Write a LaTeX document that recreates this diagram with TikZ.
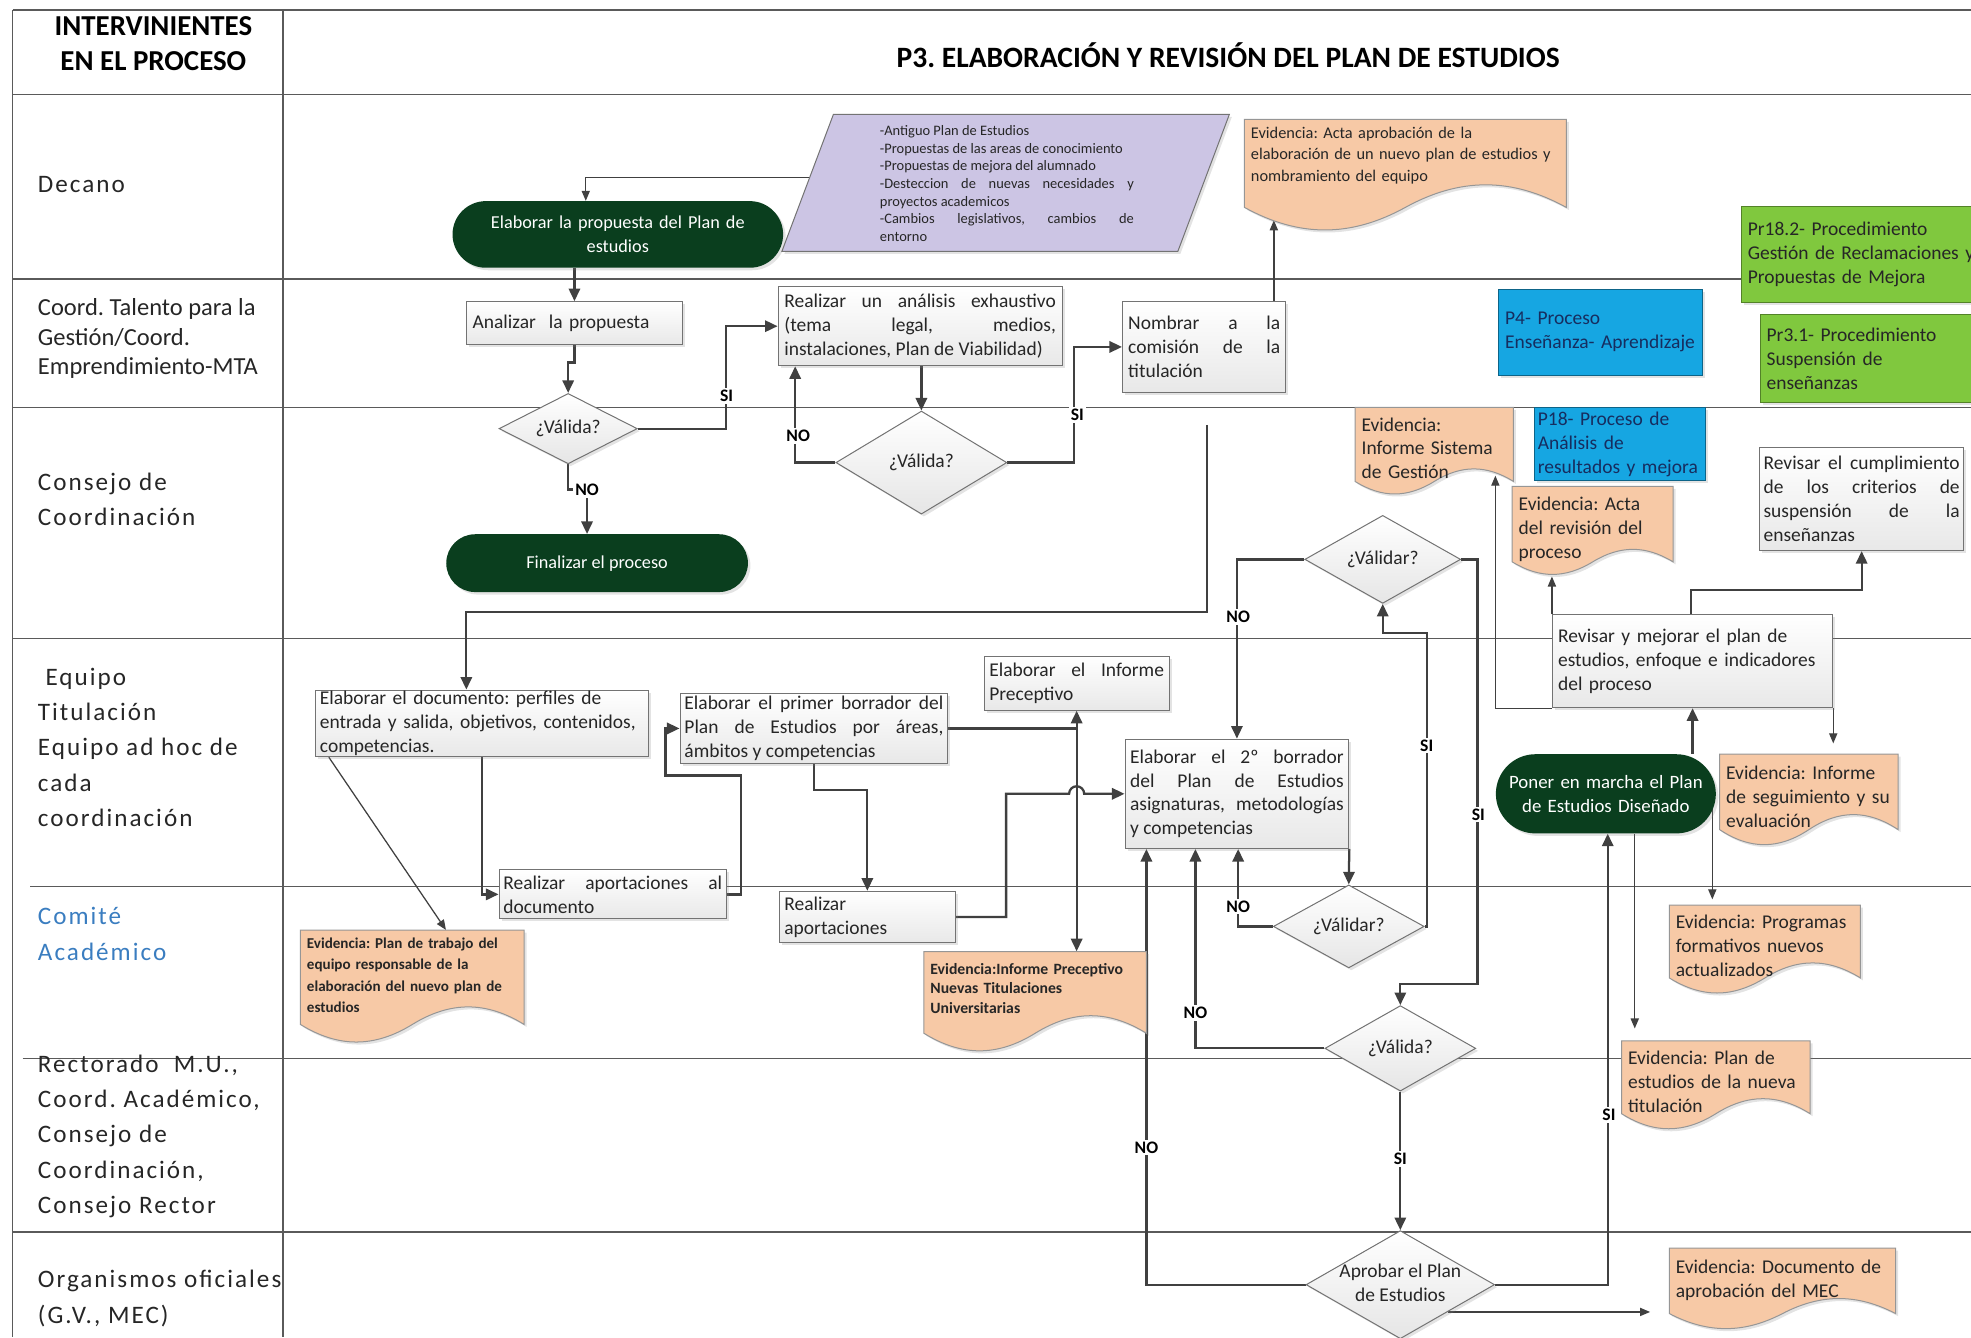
\documentclass[tikz,border=0pt]{standalone}
\usepackage{fontspec}
\setmainfont{Carlito}
\newfontfamily\lanefamily{Carlito}[LetterSpace=8]
\usetikzlibrary{shapes.geometric,shadows,calc,fit,arrows.meta}

\definecolor{pillgreen}{RGB}{10,62,30}
\definecolor{lavender}{RGB}{204,197,228}
\definecolor{evfill}{RGB}{247,201,166}
\definecolor{evline}{RGB}{150,150,150}
\definecolor{boxline}{RGB}{115,115,115}
\definecolor{pblue}{RGB}{22,166,226}
\definecolor{pgreen}{RGB}{128,200,62}
\definecolor{navy}{RGB}{22,45,95}
\definecolor{comite}{RGB}{58,125,192}
\definecolor{edge}{RGB}{64,64,64}
\definecolor{lanecol}{RGB}{90,90,90}
\definecolor{textcol}{RGB}{38,38,38}

\hyphenpenalty=10000
\exhyphenpenalty=10000
\tolerance=10000
\hbadness=10000
\hfuzz=20pt
\frenchspacing

\newcommand\boxfnt{\fontsize{15.5}{19}\selectfont}
\newcommand\smallfnt{\fontsize{13}{17}\selectfont}
\newcommand\evbfnt{\bfseries\fontsize{12}{17}\selectfont}
\newcommand\evcfnt{\bfseries\fontsize{12.5}{15.5}\selectfont}
\newcommand\listfnt{\fontsize{11.5}{14}\selectfont}
\newcommand\pillfnt{\fontsize{14.5}{19}\selectfont}
\newcommand\lblfnt{\bfseries\fontsize{14}{14}\selectfont}
\newcommand\lanefnt{\lanefamily\fontsize{20}{28}\selectfont}
\newcommand\coordfnt{\fontsize{19.5}{23.5}\selectfont}
\newcommand\headfnt{\bfseries\fontsize{23}{28}\selectfont}
\newcommand\titlefnt{\bfseries\fontsize{23.5}{28}\selectfont}

% centred text of a decision that does not enlarge the diamond
\newcommand\dtext[1]{\smash{\makebox[0pt]{\raisebox{-0.25em}{\begin{tabular}{@{}c@{}}#1\end{tabular}}}}}

\pgfdeclarelayer{lanes}
\pgfdeclarelayer{edges}
\pgfsetlayers{lanes,edges,main}

\tikzset{
  softshadow/.style={drop shadow={opacity=0.22, shadow xshift=2pt, shadow yshift=-2pt}},
  laneline/.style={draw=lanecol, line width=1.1pt},
  lanelabel/.style={anchor=west, align=left, inner sep=0pt, font=\lanefnt, text=textcol},
  headtxt/.style={font=\headfnt, text=black, inner sep=0pt, align=center},
  proc/.style={rectangle, draw=boxline, line width=0.8pt, top color=white, bottom color=black!9, inner sep=0pt, text=textcol, font=\boxfnt, softshadow},
  pill/.style={rectangle, fill=pillgreen, text=white, inner sep=0pt, align=center, font=\pillfnt, softshadow},
  decision/.style={diamond, draw=boxline, line width=0.8pt, top color=white, bottom color=black!10, inner sep=0pt, aspect=2, font=\boxfnt, text=textcol, softshadow},
  evshape/.style={fill=evfill, draw=evline, line width=0.8pt, softshadow},
  evtext/.style={anchor=north west, inner sep=0pt, align=left, text=textcol, font=\boxfnt},
  listshape/.style={fill=lavender, draw=boxline, line width=0.8pt, softshadow},
  listtext/.style={text width=202pt, align=justify, font=\listfnt, inner sep=0pt, text=textcol},
  refbox/.style={rectangle, anchor=north west, inner xsep=5pt, inner ysep=0pt, align=left, font=\boxfnt, softshadow},
  greenbox/.style={refbox, fill=pgreen, draw=pgreen!65!black, line width=0.8pt, text=textcol},
  bluebox/.style={refbox, fill=pblue, draw=pblue!60!black, line width=0.8pt, text=navy},
  arr/.style={draw=edge, line width=1.8pt, -{Triangle[length=10pt,width=9pt]}},
  tarr/.style={draw=edge, line width=1pt, -{Triangle[length=8pt,width=6.5pt]}},
  lbl/.style={font=\lblfnt, fill=white, inner sep=1.5pt, text=black},
}

% evidence document: name, x1, y1, x2, bottom, wave depth, text options, text
\newcommand\evdoc[8]{%
  \pgfmathsetmacro\evw{#4-#2}%
  \pgfmathsetlengthmacro\evtw{#4-#2-10}%
  \path[evshape] (#2,#3) -- (#4,#3) -- (#4,#5)
    .. controls ({#4-0.17*\evw},{#5-1.33*#6}) and ({#2+0.67*\evw},{#5-1.33*#6}) .. ({#2+0.5*\evw},#5)
    .. controls ({#2+0.33*\evw},{#5+1.33*#6}) and ({#2+0.17*\evw},{#5+1.33*#6}) .. (#2,#5) -- cycle;
  \node[fit={(#2,#3) (#4,#5)}, inner sep=0pt] (#1) {};
  \node[evtext, text width=\evtw, #7] (#1t) at ({#2+5},#3) {#8};%
}

\begin{document}
\begin{tikzpicture}[x=1pt,y=-1pt]
\useasboundingbox (0,0) rectangle (1568,1064);

% ---------- swimlane grid ----------
\begin{pgfonlayer}{lanes}
\path[laneline] (10,8) -- (1568,8);
\path[laneline] (10,8) -- (10,1064);
\path[laneline] (225,8) -- (225,1064);
\path[laneline] (10,75) -- (1568,75);
\path[laneline] (10,222) -- (1568,222);
\path[laneline] (10,324) -- (1568,324);
\path[laneline] (10,508) -- (1568,508);
\path[laneline] (24,705) -- (1568,705);
\path[laneline] (18,842) -- (1568,842);
\path[laneline] (10,980) -- (1568,980);
\end{pgfonlayer}

% ---------- headings and lane names ----------
\node[headtxt] (hInt) at (122,35) {INTERVINIENTES\\EN EL PROCESO};
\node[headtxt, font=\titlefnt] (hTit) at (977,44) {P3. ELABORACIÓN Y REVISIÓN DEL PLAN DE ESTUDIOS};

\node[lanelabel] (lDec) at (30,147) {Decano};
\node[lanelabel, font=\coordfnt] (lCoord) at (30,269.5) {Coord. Talento para la\\Gestión/Coord.\\Emprendimiento-MTA};
\node[lanelabel] (lCons) at (30,397) {Consejo de\\Coordinación};
\node[lanelabel] (lEq) at (30,594.5) {\hspace{6pt}Equipo\\Titulación\\Equipo ad hoc de\\cada\\coordinación};
\node[lanelabel, text=comite] (lCom) at (30,743) {Comité\\Académico};
\node[lanelabel] (lRect) at (30,904) {Rectorado\ \ M.U.,\\Coord. Académico,\\Consejo de\\Coordinación,\\Consejo Rector};
\node[lanelabel] (lOrg) at (30,1033) {Organismos oficiales\\(G.V., MEC)};

% ---------- Decano ----------
\path[listshape] (663,91) -- (978,91) -- (937,200) -- (622,200) -- cycle;
\node[listtext] (inputs) at (801,146) {-Antiguo Plan de Estudios\\
-Propuestas de las areas de conocimiento\\
-Propuestas de mejora del alumnado\\
-Desteccion de nuevas necesidades y\linebreak proyectos academicos\\
-Cambios legislativos, cambios de\linebreak entorno};
\coordinate (inL) at (644,141);

\node[pill, minimum width=263, minimum height=53, rounded corners=26.5pt, text width=250] (Eprop) at (491.5,186.5) {Elaborar la propuesta del Plan de\\estudios};

\evdoc{ev1}{990}{95}{1246}{165}{18}{font=\smallfnt, yshift=-6pt}{Evidencia: Acta aprobación de la\\elaboración de un nuevo plan de estudios y\\nombramiento del equipo}

\node[greenbox, minimum width=205, minimum height=76, text width=195] (pr182) at (1385,164) {Pr18.2- Procedimiento\\Gestión de Reclamaciones y\\Propuestas de Mejora};

% ---------- Coord. Talento ----------
\node[proc, minimum width=172, minimum height=34, text width=162, align=left] (analizar) at (457,257) {Analizar\ \ la propuesta};
\node[proc, minimum width=226, minimum height=63, text width=216, align=justify] (analisis) at (732,259.5) {Realizar un análisis exhaustivo\linebreak (tema legal, medios,\linebreak instalaciones, Plan de Viabilidad)};
\node[proc, minimum width=130, minimum height=72, text width=121, align=justify] (nombrar) at (958,276) {Nombrar a la\linebreak comisión de la\linebreak titulación};
\node[bluebox, minimum width=162, minimum height=68, text width=152] (p4) at (1192,230) {P4- Proceso\\Enseñanza- Aprendizaje};
\node[greenbox, minimum width=190, minimum height=70, text width=180] (pr31) at (1400,250) {Pr3.1- Procedimiento\\Suspensión de\\enseñanzas};

% ---------- Consejo de Coordinación ----------
\node[decision, minimum width=110, minimum height=56] (D1) at (452,341) {\dtext{¿Válida?}};
\node[decision, minimum width=136, minimum height=82] (D2) at (733,368) {\dtext{¿Válida?}};
\node[pill, minimum width=240, minimum height=46, rounded corners=23pt] (fin) at (475,448) {Finalizar el proceso};
\node[bluebox, minimum width=136, minimum height=58, inner xsep=3pt, text width=130] (p18) at (1220,324) {P18- Proceso de\\Análisis de\\resultados y mejora};
\evdoc{ev2}{1078}{324}{1204}{383}{10}{yshift=-8pt}{Evidencia:\\Informe Sistema\\de Gestión}
\evdoc{ev3}{1203}{387}{1331}{447}{10}{yshift=-8pt}{Evidencia: Acta\\del revisión del\\proceso}
\node[proc, minimum width=162, minimum height=82, text width=156, align=justify] (revisarC) at (1481,397) {Revisar el cumplimiento\linebreak de los criterios de\linebreak suspensión de la\linebreak enseñanzas};
\node[decision, minimum width=124, minimum height=70] (D3) at (1100,445) {\dtext{¿Válidar?}};

% ---------- Equipo Titulación ----------
\node[proc, minimum width=265, minimum height=53, text width=258, align=left] (elabDoc) at (383.5,575.5) {Elaborar el documento: perfiles de\\entrada y salida, objetivos, contenidos,\\competencias.};
\node[proc, minimum width=213, minimum height=55, text width=206, align=justify] (borrador1) at (647.5,579.5) {Elaborar el primer borrador del\linebreak Plan de Estudios por áreas,\linebreak ámbitos y competencias};
\node[proc, minimum width=147, minimum height=43, text width=139, align=justify] (informe) at (856.5,543.5) {Elaborar el Informe\linebreak Preceptivo};
\node[proc, minimum width=178, minimum height=87, text width=170, align=justify] (borrador2) at (984,631.5) {Elaborar el 2º borrador\linebreak del Plan de Estudios\linebreak asignaturas, metodologías\linebreak y competencias};
\node[proc, minimum width=223, minimum height=74, text width=214, align=left] (mejorar) at (1346.5,526) {Revisar y mejorar el plan de\\estudios, enfoque e indicadores\\del proceso};
\node[pill, minimum width=175, minimum height=63, rounded corners=31.5pt, text width=165, font=\fontsize{15}{19}\selectfont] (marcha) at (1277.5,631.5) {Poner en marcha el Plan\\de Estudios Diseñado};
\evdoc{ev6}{1368}{600}{1510}{660}{12}{yshift=-9pt}{Evidencia: Informe\\de seguimiento y su\\evaluación}

% ---------- Comité Académico ----------
\node[proc, minimum width=181, minimum height=39, text width=174, align=justify] (aport1) at (487.5,711.5) {Realizar aportaciones al\linebreak documento};
\node[proc, minimum width=140, minimum height=41, text width=132, align=left] (aport2) at (690,729.5) {Realizar\\aportaciones};
\node[decision, minimum width=120, minimum height=66] (D4) at (1073,737) {\dtext{¿Válidar?}};
\evdoc{ev4}{239}{740}{417}{815}{14}{font=\evbfnt, yshift=-6pt}{Evidencia: Plan de trabajo del\\equipo responsable de la\\elaboración del nuevo plan de\\estudios}
\evdoc{ev5}{735}{757}{912}{822}{14}{font=\evcfnt, yshift=-9pt}{Evidencia:Informe Preceptivo\\Nuevas Titulaciones\\Universitarias}
\evdoc{ev7}{1328}{720}{1480}{778}{12}{yshift=-8pt}{Evidencia: Programas\\formativos nuevos\\actualizados}

% ---------- Rectorado / Organismos ----------
\node[decision, minimum width=120, minimum height=68] (D5) at (1114,834) {\dtext{¿Válida?}};
\evdoc{ev8}{1290}{828}{1440}{886}{12}{yshift=-8pt}{Evidencia: Plan de\\estudios de la nueva\\titulación}
\node[decision, minimum width=150, minimum height=86] (D6) at (1114,1022) {\dtext{Aprobar el Plan\\de Estudios}};
\evdoc{ev9}{1328}{993}{1508}{1045}{12}{yshift=-9pt}{Evidencia: Documento de\\aprobación del MEC}

\coordinate (cstart) at (960,338);

% ---------- connectors ----------
\begin{pgfonlayer}{edges}
\draw[tarr] (inL) -| ([xshift=-25.5]Eprop.north);
\draw[arr] (analizar.north |- Eprop.south) -- (analizar.north);
\draw[arr] (analizar.south) -- ++(0,14) -| (D1.north);
\draw[arr] (D1.east) -| ([xshift=-41]analisis.west) -- (analisis.west);
\draw[arr] (D1.south) -- ++(0,20) -| ([xshift=-8]fin.north);
\draw[arr] (D2.north |- analisis.south) -- (D2.north);
\draw[arr] (D2.west) -| ([xshift=14]analisis.south west);
\draw[arr] (D2.east) -| ([xshift=-38]nombrar.west) -- (nombrar.west);
\draw[tarr] ([xshift=-10]nombrar.north east) -- ($(nombrar.north east |- ev1.south)+(-10,10)$);
\draw[arr] (cstart) -- ++(0,149) -| ([xshift=-12.5]elabDoc.north);
\draw[tarr] ([xshift=11]elabDoc.south west) -- ([xshift=116]ev4.north west);
\draw[arr] (elabDoc.south) |- (aport1.west);
\draw[arr] (aport1.east) -- ++(11,0) -- ++(0,-94.5) -- ++(-60,0) |- (borrador1.west);
\draw[arr] (borrador1.south) -- ++(0,21) -| (aport2.north);
\draw[arr] (aport2.east) -- ++(40,0) |- ($(informe.south |- borrador2.west)+(-6,0)$) arc[start angle=180, end angle=0, radius=6pt] -- (borrador2.west);
\draw[arr] (borrador1.east) -| (informe.south);
\draw[arr] (borrador1.east -| informe.south) -- (informe.south |- ev5.north);
\draw[arr] (D3.west) -| (borrador2.north);
\draw[arr] (D3.east) -- ++(13,0) |- ($(D5.north)+(0,-17)$) -- (D5.north);
\draw[arr] (borrador2.south east) -- (D4.north);
\draw[arr] (D4.west) -| ([xshift=1]borrador2.south);
\draw[arr] (D4.east) -- ++(2,0) |- ($(D3.south)+(0,23)$) -- (D3.south);
\draw[arr] (D5.west) -| ([xshift=-33]borrador2.south);
\draw[arr] (D5.south) -- (D6.north);
\draw[arr] (D6.west) -| ([xshift=-72]borrador2.south);
\draw[arr] (D6.east) -| ([xshift=1.5]marcha.south);
\draw[tarr] ($(D6.east)!.5!(D6.south)$) -- ++(161,0);
\draw[arr] (mejorar.south |- marcha.north) -- (mejorar.south);
\draw[arr] ([xshift=-1.5]mejorar.north) -- ++(0,-19) -| (revisarC.south);
\draw[tarr] (mejorar.south west) -- ++(-45,0) -- ++(0,-185);
\draw[tarr] (mejorar.north west) -- ++(0,-30);
\draw[tarr] (mejorar.south east) -- ++(0,28);
\draw[tarr] ($(marcha.east)+(-3,8)$) -- ++(0,76);
\draw[tarr] ([xshift=23]marcha.south) -- ++(0,155);
\end{pgfonlayer}

% ---------- branch labels ----------
\node[lbl] (sA) at (578,315) {SI};
\node[lbl] (nA) at (467,390) {NO};
\node[lbl] (nB) at (635,347) {NO};
\node[lbl] (sB) at (857,330) {SI};
\node[lbl] (nC) at (985,491) {NO};
\node[lbl] (sC) at (1176,648) {SI};
\node[lbl] (sD) at (1135,593) {SI};
\node[lbl] (nD) at (985,721) {NO};
\node[lbl] (nE) at (951,806) {NO};
\node[lbl] (sE) at (1114,922) {SI};
\node[lbl] (nF) at (912,913) {NO};
\node[lbl] (sF) at (1280,887) {SI};
\end{tikzpicture}
\end{document}
